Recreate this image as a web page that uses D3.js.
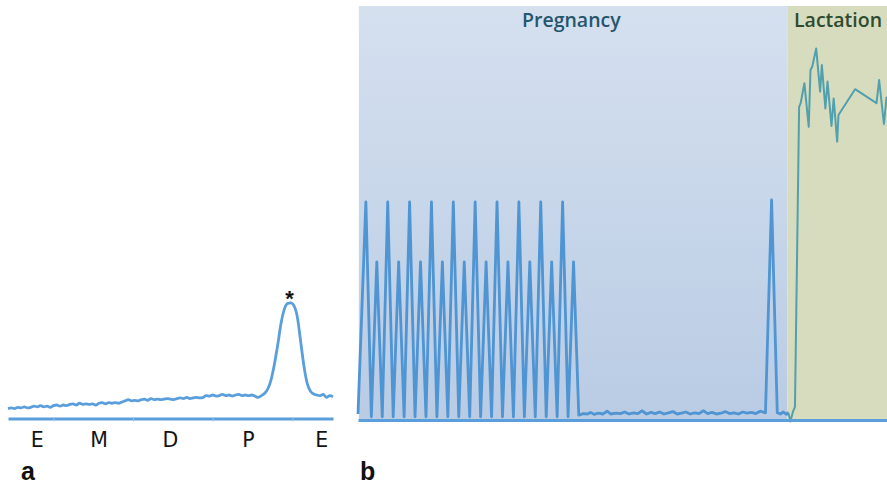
<!DOCTYPE html>
<html lang="en">
<head>
<meta charset="UTF-8">
<title>Cycle and pregnancy traces</title>
<script src="https://d3js.org/d3.v7.min.js"></script>
<style>
  body { margin: 0; background: #fff; }
  svg { display: block; }
  .lbl { font-family: "Liberation Sans", Arial, sans-serif; }
  .stage { font-family: "DejaVu Sans", sans-serif; }
  .phase { font-family: "Open Sans", sans-serif; font-size: 19.5px; font-weight: 600; }
</style>
</head>
<body>
<svg id="chart" width="887" height="487"></svg>
<script>
// panel a: one estrous cycle, [time, level]
const cycleTrace = [
  [0,8],[1,8.5],[2,8],[3,9],[4,8.5],[5,9.5],[6,8.5],[7,9],[8,10],[9,9.5],[10,10.5],
  [11,9.5],[12,10],[13,9],[14,10.5],[15,11],[16,10],[17,11],[18,10.5],[19,11.5],[20,12],
  [21,11],[22,12.5],[23,11.5],[24,12],[25,11.5],[26,12],[27,11],[28,12.5],[29,13],[30,12],
  [31,13],[32,12.5],[33,13],[34,12.5],[35,13.5],[36,14.5],[37,15.5],[38,14.5],[39,15],[40,14.5],
  [41,15.5],[42,16],[43,15],[44,16.5],[45,15.5],[46,16],[47,15.5],[48,16],[49,16.5],[50,16],
  [51,15.5],[52,16.5],[53,17],[54,16.5],[55,17.5],[56,16.5],[57,17],[58,17.5],[59,17],[60,17.5],
  [61,19],[62,18.5],[63,19.5],[64,18.5],[65,19],[66,20],[67,19],[68,19.5],[69,18.5],[70,19.5],
  [71,20],[72,19],[73,19.5],[74,19],[75,19.5],[76,18.5],[77,17.5],[78,19],[79,21],[80,25],
  [81,33],[82,46],[83,62],[84,80],[85,92],[86,97],[87,97.5],[88,95],[89,86],[90,66],
  [91,45],[92,30],[93,23],[94,20.5],[95,19.5],[96,19],[97,20],[98,17.5],[99,19],[100,18]
];
const cycleTicks = [14, 38.5, 63, 87.5];
const cycleStages = ["E", "M", "D", "P", "E"];
const stagePos = [9, 28, 50, 74, 96.5];
const surgeTime = 86.6;
const surgeLevel = 97.5;

// panel b: pregnancy then lactation, [time, level]
const pregnancyTrace = [
  [0,1.5],[1.8,54.5],[3.05,0.8],[4.3,39.5],[5.55,0.8],[6.8,54.5],[8.05,0.8],[9.3,39.5],
  [10.55,0.8],[11.8,54.5],[13.05,0.8],[14.3,39.5],[15.55,0.8],[16.8,54.5],[18.05,0.8],[19.3,39.5],
  [20.55,0.8],[21.8,54.5],[23.05,0.8],[24.3,39.5],[25.55,0.8],[26.8,54.5],[28.05,0.8],[29.3,39.5],
  [30.55,0.8],[31.8,54.5],[33.05,0.8],[34.3,39.5],[35.55,0.8],[36.8,54.5],[38.05,0.8],[39.3,39.5],
  [40.55,0.8],[41.8,54.5],[43.05,0.8],[44.3,39.5],[45.55,0.8],[46.8,54.5],[48.05,0.8],[49.3,39.5],
  [50.5,1.2],[51.5,1.6],[52.5,1.5],[53.2,1.9],[54,1.4],[55,1.7],[56,1.5],[57,2.2],[57.8,1.5],
  [59,1.7],[60,1.6],[61,2.0],[62,1.5],[63,1.8],[64,1.6],[65,2.3],[66,1.5],[67,1.9],[68,1.6],
  [69,2.0],[70,1.5],[71,1.8],[72,2.1],[73,1.5],[74,1.7],[75,2.0],[76,1.5],[77,1.8],[78,1.6],
  [79,2.3],[80,1.6],[81,1.9],[82,1.5],[83,1.7],[84,2.1],[85,1.6],[86,1.8],[87,1.5],[88,2.0],
  [89,1.7],[90,1.9],[91,1.6],[92,2.2],[93.2,1.8],[94.6,55],[95.9,1.8],[96.6,1.5],[97.3,2.0],
  [98,1.4],[98.5,1.9]
];
const lactationTrace = [
  [98.5,1.6],[98.9,-0.4],[99.5,2.1],[99.95,3.3],[100.9,78.3],[101.25,79.2],[102.1,84.2],
  [103.1,73.3],[103.5,87.5],[103.9,88.3],[104.8,92.9],[105.7,82.1],[106.1,88.75],[106.9,77.9],
  [107.4,84.6],[108.3,73.5],[108.8,80.4],[109.6,69.6],[109.9,76.25],[113.7,82.7],[118.6,79.2],
  [119.2,85],[120.3,74],[120.9,80.8]
];
const phases = ["Pregnancy", "Lactation"];
const phaseStart = [0.2, 98.2];
const phaseEnd = [98.2, 121];
const phaseLabelAt = [48.8, 109.8];

const svg = d3.select("#chart");
const blue = "#5a9fdc";

// ---- panel a
const xa = d3.scaleLinear().domain([0, 100]).range([8, 333]);
const ya = d3.scaleLinear().domain([0, 100]).range([418, 300]);

svg.append("path")
  .datum(cycleTrace)
  .attr("fill", "none")
  .attr("stroke", blue)
  .attr("stroke-width", 2.8)
  .attr("stroke-linejoin", "round")
  .attr("d", d3.line().x(d => xa(d[0])).y(d => ya(d[1])).curve(d3.curveMonotoneX));

const axA = svg.append("g")
  .attr("transform", "translate(0,418.5)")
  .call(d3.axisBottom(xa).tickValues(cycleTicks).tickFormat("").tickSize(3).tickSizeOuter(0));
axA.select(".domain").attr("stroke", blue).attr("stroke-width", 3);
axA.selectAll(".tick line").attr("stroke", "#a9c8e8").attr("stroke-width", 1);

svg.selectAll(".stage")
  .data(cycleStages)
  .join("text")
  .attr("class", "stage")
  .attr("x", (d, i) => xa(stagePos[i]))
  .attr("y", 447)
  .attr("text-anchor", "middle")
  .attr("font-size", 20.5)
  .attr("fill", "#141414")
  .text(d => d);

svg.append("text")
  .attr("class", "lbl")
  .attr("x", xa(surgeTime))
  .attr("y", ya(surgeLevel) + 3)
  .attr("text-anchor", "middle")
  .attr("font-size", 22)
  .attr("font-weight", "bold")
  .attr("fill", "#111")
  .text("*");

// ---- panel b
const xb = d3.scaleLinear().domain([0, 121]).range([358, 887]);
const yb = d3.scaleLinear().domain([0, 100]).range([420, 20]);

const defs = svg.append("defs");
const grad = defs.append("linearGradient")
  .attr("id", "pregGrad").attr("x1", 0).attr("y1", 0).attr("x2", 0).attr("y2", 1);
grad.append("stop").attr("offset", "0%").attr("stop-color", "#d5e0ef");
grad.append("stop").attr("offset", "100%").attr("stop-color", "#b9cce4");

const phaseFill = ["url(#pregGrad)", "#d6dcbd"];
const phaseText = ["#24566c", "#2f4a2f"];

svg.selectAll(".phaseBg")
  .data(phases)
  .join("rect")
  .attr("x", (d, i) => xb(phaseStart[i]))
  .attr("y", 6)
  .attr("width", (d, i) => xb(phaseEnd[i]) - xb(phaseStart[i]))
  .attr("height", yb(0) - 6)
  .attr("fill", (d, i) => phaseFill[i]);

svg.selectAll(".phaseLbl")
  .data(phases)
  .join("text")
  .attr("class", "phase")
  .attr("x", (d, i) => xb(phaseLabelAt[i]))
  .attr("y", 27)
  .attr("text-anchor", "middle")
  .attr("fill", (d, i) => phaseText[i])
  .text(d => d);

svg.append("path")
  .datum(pregnancyTrace)
  .attr("fill", "none")
  .attr("stroke", "#4f94d3")
  .attr("stroke-width", 2.8)
  .attr("stroke-linejoin", "round")
  .attr("d", d3.line().x(d => xb(d[0])).y(d => yb(d[1])));

svg.append("path")
  .datum(lactationTrace)
  .attr("fill", "none")
  .attr("stroke", "#52a0ae")
  .attr("stroke-width", 2)
  .attr("stroke-linejoin", "round")
  .attr("d", d3.line().x(d => xb(d[0])).y(d => yb(d[1])));

const axB = svg.append("g")
  .attr("transform", `translate(0,${yb(0)})`)
  .call(d3.axisBottom(xb).tickValues([]).tickSizeOuter(0));
axB.select(".domain").attr("stroke", blue).attr("stroke-width", 3);

// panel letters
svg.append("text").attr("class", "lbl").attr("x", 21).attr("y", 480)
  .attr("font-size", 25).attr("font-weight", "bold").attr("fill", "#111").text("a");
svg.append("text").attr("class", "lbl").attr("x", 360).attr("y", 480)
  .attr("font-size", 25).attr("font-weight", "bold").attr("fill", "#111").text("b");
</script>
</body>
</html>
